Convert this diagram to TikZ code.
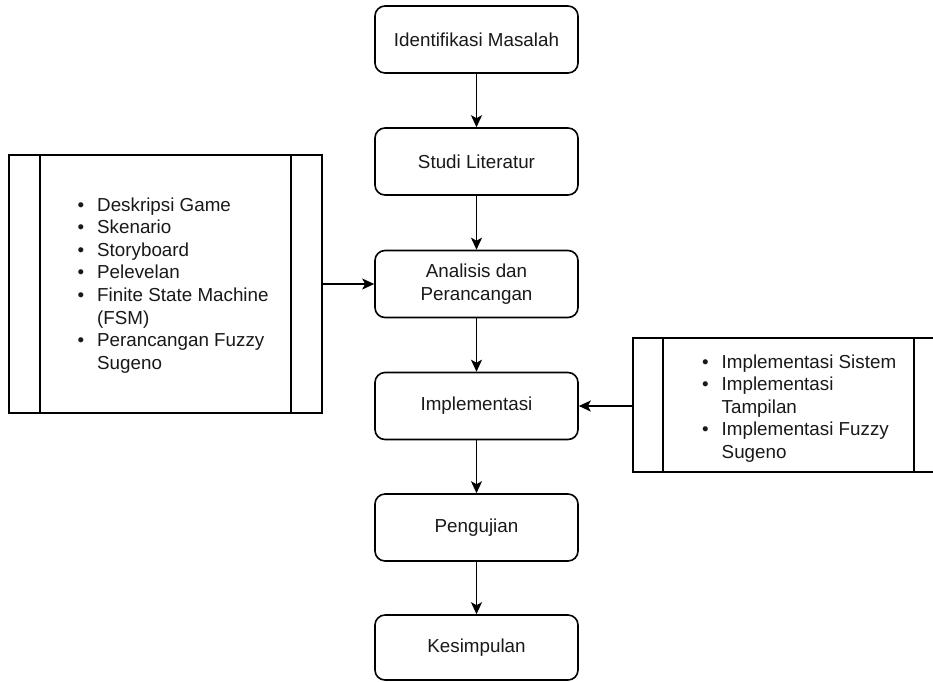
\documentclass[tikz,border=0pt]{standalone}
\usepackage{fontspec}
\setmainfont{Liberation Sans}
\usetikzlibrary{arrows.meta}
\newcommand{\dfont}{\fontsize{18.8}{22.6}\selectfont}
\newcommand{\bul}{\makebox[20pt][l]{\hspace{0.3pt}\textbullet}}
\begin{document}
\begin{tikzpicture}[x=1pt,y=-1pt,
  stepbox/.style={draw=black, line width=1.6pt, rounded corners=10pt, minimum width=203pt, minimum height=67pt, inner sep=0pt, align=center, font=\dfont, text=black!90},
  procbox/.style={draw=black, line width=1.6pt, inner sep=0pt},
  listtext/.style={anchor=base west, inner sep=0pt, font=\dfont, text=black!90},
  arr/.style={line width=1.8pt, draw=black, -{Stealth[length=12pt,width=11pt,inset=3pt]}}
]
\useasboundingbox (0,0) rectangle (933,681);
\fill[white] (0,0) rectangle (933,681);

\node[stepbox] (s1) at (476.5,39.5) {Identifikasi Masalah};
\node[stepbox] (s2) at (476.5,161.5) {Studi Literatur};
\node[stepbox] (s3) at (476.5,284) {Analisis dan\\Perancangan};
\node[stepbox] (s4) at (476.5,406) {Implementasi};
\node[stepbox] (s5) at (476.5,527.5) {Pengujian};
\node[stepbox, minimum height=65pt] (s6) at (476.5,647.5) {Kesimpulan};

% left process box
\node[procbox, minimum width=313pt, minimum height=258pt] (lb) at (165.5,284) {};
\draw[line width=1.6pt] ([xshift=32pt]lb.north west) -- ([xshift=32pt]lb.south west);
\draw[line width=1.6pt] ([xshift=-32pt]lb.north east) -- ([xshift=-32pt]lb.south east);
\node[listtext] (ll) at (77,211) {\begin{tabular}[t]{@{}l@{}l@{}}
\bul & Deskripsi Game\\
\bul & Skenario\\
\bul & Storyboard\\
\bul & Pelevelan\\
\bul & Finite State Machine\\
 & (FSM)\\
\bul & Perancangan Fuzzy\\
 & Sugeno
\end{tabular}};

% right process box
\node[procbox, minimum width=311pt, minimum height=134pt] (rb) at (788.5,405) {};
\draw[line width=1.6pt] ([xshift=31pt]rb.north west) -- ([xshift=31pt]rb.south west);
\draw[line width=1.6pt] ([xshift=-31pt]rb.north east) -- ([xshift=-31pt]rb.south east);
\node[listtext] (rl) at (701.5,368) {\begin{tabular}[t]{@{}l@{}l@{}}
\bul & Implementasi Sistem\\
\bul & Implementasi\\
 & Tampilan\\
\bul & Implementasi Fuzzy\\
 & Sugeno
\end{tabular}};

\draw[arr] (s1) -- (s2);
\draw[arr] (s2) -- (s3);
\draw[arr] (s3) -- (s4);
\draw[arr] (s4) -- (s5);
\draw[arr] (s5) -- (s6);
\draw[arr] (lb.east) -- (s3.west);
\draw[arr] (rb.west |- s4.east) -- (s4.east);
\end{tikzpicture}
\end{document}
